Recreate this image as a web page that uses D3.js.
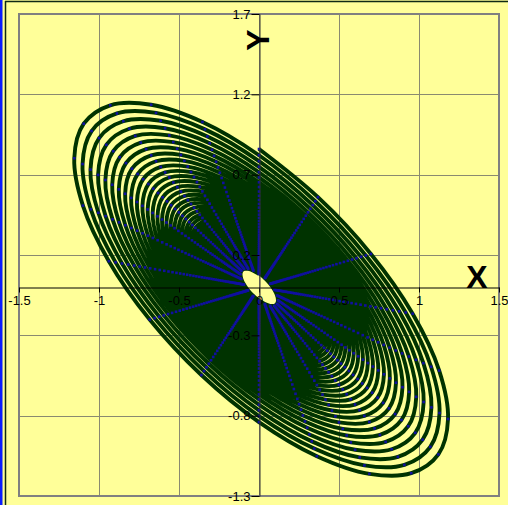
<!DOCTYPE html>
<html lang="en">
<head>
<meta charset="UTF-8">
<title>spiral</title>
<script src="https://cdn.jsdelivr.net/npm/d3@7"></script>
<style>
  body { margin: 0; background: #FFFF99; }
  svg { display: block; font-family: "Liberation Sans", Arial, sans-serif; }
</style>
</head>
<body>
<div id="chart"></div>
<script>
    // angle of each point inside one turn (degrees), 20 points per turn
    var spokeAngles = [0, 18, 36, 54, 72, 90, 108, 126, 144, 162, 180, 198, 216, 234, 252, 270, 288, 306, 324, 342];
    // radius at the start of each turn, outer to inner
    var ringRadius = [1.195, 1.141, 1.090, 1.041, 0.994, 0.949, 0.907, 0.866, 0.827, 0.790,
                      0.754, 0.720, 0.688, 0.657, 0.627, 0.599, 0.572, 0.546, 0.522, 0.498,
                      0.476, 0.454, 0.434, 0.414, 0.396, 0.378, 0.361, 0.345, 0.329, 0.314,
                      0.300, 0.287, 0.274, 0.261, 0.250, 0.238, 0.228, 0.217, 0.208, 0.198,
                      0.189, 0.181, 0.173, 0.165, 0.157, 0.150, 0.144, 0.137, 0.131, 0.125,
                      0.120, 0.114];
    // phase shift of y against x (degrees)
    var phase = [134];

    var xTicks = [-1.5, -1, -0.5, 0, 0.5, 1, 1.5];
    var yTicks = [1.7, 1.2, 0.7, 0.2, -0.3, -0.8, -1.3];

    var WIDTH = 508, HEIGHT = 505;
    var LEFT = 19, RIGHT = 499, TOP = 14, BOTTOM = 496;

    var x = d3.scaleLinear().domain([-1.5, 1.5]).range([LEFT, RIGHT]);
    var y = d3.scaleLinear().domain([-1.3, 1.7]).range([BOTTOM, TOP]);

    // build the spiral points from the turn radii and the spoke angles
    var points = [];
    var rad = Math.PI / 180;
    for (var k = 0; k < ringRadius.length; k++) {
        for (var j = 0; j < spokeAngles.length; j++) {
            if (k == ringRadius.length - 1 && j > 0) break;
            var f = j / spokeAngles.length;
            var r0 = ringRadius[k];
            var r1 = k + 1 < ringRadius.length ? ringRadius[k + 1] : r0;
            var r = r0 + (r1 - r0) * f;
            var t = spokeAngles[j] * rad;
            points.push({ x: r * Math.sin(t), y: r * Math.sin(t + phase[0] * rad) });
        }
    }

    var svg = d3.select("#chart").append("svg")
        .attr("width", WIDTH)
        .attr("height", HEIGHT);

    // chart frame
    svg.append("rect").attr("x", 0).attr("y", 0).attr("width", WIDTH).attr("height", HEIGHT).attr("fill", "#FFFF99");
    svg.append("rect").attr("x", 0).attr("y", 0).attr("width", 2.5).attr("height", HEIGHT).attr("fill", "#0a1cff");
    svg.append("line").attr("x1", 5.5).attr("x2", 5.5).attr("y1", 1).attr("y2", HEIGHT).attr("stroke", "#0f2a14").attr("stroke-width", 1.5);
    svg.append("line").attr("x1", 5).attr("x2", WIDTH).attr("y1", 1.5).attr("y2", 1.5).attr("stroke", "#0f2a14").attr("stroke-width", 1.5);

    // gridlines
    var grid = svg.append("g").attr("stroke", "#8a8a70").attr("stroke-width", 1);
    grid.selectAll("line.v").data(xTicks).enter().append("line")
        .attr("class", "v")
        .attr("x1", function (d) { return Math.round(x(d)) + 0.5; })
        .attr("x2", function (d) { return Math.round(x(d)) + 0.5; })
        .attr("y1", TOP).attr("y2", BOTTOM);
    grid.selectAll("line.h").data(yTicks).enter().append("line")
        .attr("class", "h")
        .attr("y1", function (d) { return Math.round(y(d)) + 0.5; })
        .attr("y2", function (d) { return Math.round(y(d)) + 0.5; })
        .attr("x1", LEFT).attr("x2", RIGHT);

    // plot area border
    svg.append("rect")
        .attr("x", LEFT).attr("y", TOP)
        .attr("width", RIGHT - LEFT).attr("height", BOTTOM - TOP)
        .attr("fill", "none").attr("stroke", "#808080").attr("stroke-width", 2);

    // spiral line (smoothed like the spreadsheet)
    var line = d3.line()
        .curve(d3.curveCatmullRom.alpha(0.5))
        .x(function (d) { return x(d.x); })
        .y(function (d) { return y(d.y); });

    svg.append("path")
        .datum(points)
        .attr("d", line)
        .attr("fill", "none")
        .attr("stroke", "#003300")
        .attr("stroke-width", 3.9)
        .attr("stroke-linejoin", "round");

    // markers
    svg.append("g").selectAll("rect")
        .data(points).enter()
        .append("rect")
        .attr("x", function (d) { return x(d.x) - 1.3; })
        .attr("y", function (d) { return y(d.y) - 1.3; })
        .attr("width", 2.6).attr("height", 2.6)
        .attr("fill", "#1010a0");

    // axes crossing at the origin
    var xAxis = d3.axisBottom(x).tickValues(xTicks).tickSize(5).tickSizeOuter(0)
        .tickFormat(function (d) { return String(d); });
    var gx = svg.append("g")
        .attr("transform", "translate(0," + (Math.round(y(0)) + 0.5) + ")")
        .call(xAxis);
    gx.select(".domain").attr("stroke", "#000");
    gx.selectAll(".tick line").attr("stroke", "#000");
    gx.selectAll(".tick text").attr("font-size", 13).attr("font-family", "Liberation Sans, Arial").attr("dy", "0.9em").attr("y", 6);

    var yAxis = d3.axisLeft(y).tickValues(yTicks).tickSize(8).tickSizeOuter(0)
        .tickFormat(function (d) { return String(d); });
    var gy = svg.append("g")
        .attr("transform", "translate(" + (Math.round(x(0)) + 0.5) + ",0)")
        .call(yAxis);
    gy.select(".domain").attr("stroke", "#333");
    gy.selectAll(".tick line").attr("stroke", "#000");
    gy.selectAll(".tick text").attr("font-size", 13).attr("font-family", "Liberation Sans, Arial").attr("x", -9);

    // axis titles
    svg.append("text")
        .attr("x", 477).attr("y", 288)
        .attr("text-anchor", "middle")
        .attr("font-size", 32).attr("font-weight", "bold")
        .attr("font-family", "Liberation Sans, Arial")
        .text("X");
    svg.append("text")
        .attr("transform", "translate(269,40) rotate(-90)")
        .attr("text-anchor", "middle")
        .attr("font-size", 32).attr("font-weight", "bold")
        .attr("font-family", "Liberation Sans, Arial")
        .text("Y");
</script>
</body>
</html>
